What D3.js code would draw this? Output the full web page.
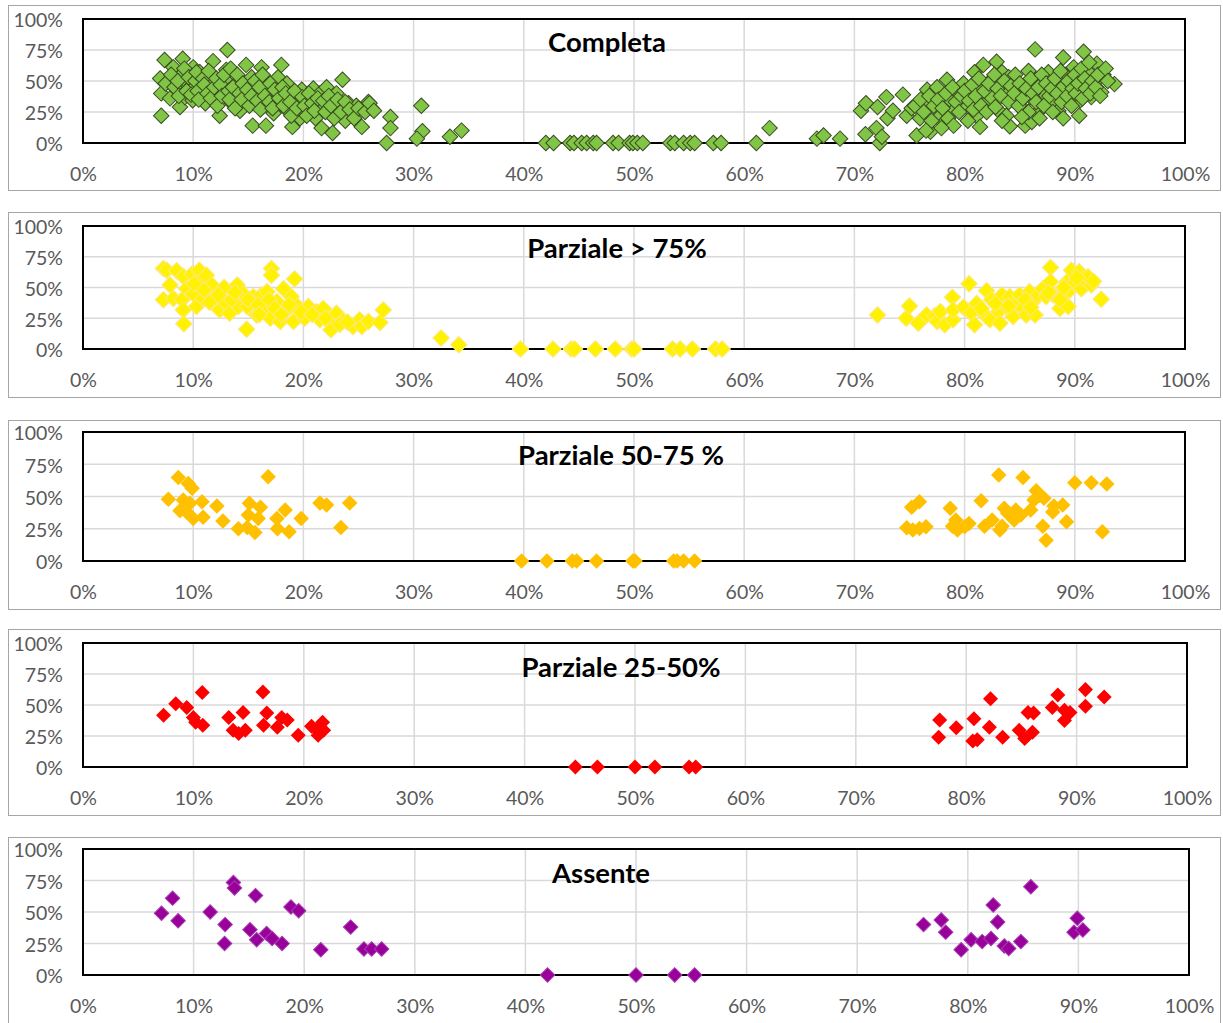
<!DOCTYPE html>
<html>
<head>
<meta charset="utf-8">
<script src="https://cdn.jsdelivr.net/npm/d3@7"></script>
<style>
  body { margin: 0; background: #fff; }
  svg { display: block; }
  .tick text { font-family: Lato, "Open Sans", sans-serif; fill: #595959; }
</style>
</head>
<body>
<svg id="chart" width="1223" height="1023"></svg>
<script>
// Axis ticks (percent)
const xTicks = [0, 10, 20, 30, 40, 50, 60, 70, 80, 90, 100];
const yTicks = [0, 25, 50, 75, 100];

const titles = ["Completa", "Parziale > 75%", "Parziale 50-75 %", "Parziale 25-50%", "Assente"];

// Each point: [x %, y %]
const completa = [
  // left group
  [7.1,22],[7.4,67],[7.1,40],[7.0,52],[7.5,48],[7.9,36],[8.2,61],[8.5,43],[9.05,68],[8.95,55],
  [8.8,29],[9.25,37],[9.55,48],[10.0,61],[9.95,34.5],[9.9,46.6],[10.6,57],[10.8,44],[11.1,32],[11.5,51],
  [11.8,66],[12.0,37],[12.4,22],[12.7,43],[13.0,59],[13.1,75],[12.9,51],[13.5,32],[13.9,48],[14.25,26],
  [14.8,63],[15.0,37],[15.4,14],[15.3,53],[15.75,41],[16.2,61],[16.4,32],[16.6,14],[16.7,45],[17.3,24],
  [17.6,40],[17.7,53],[18.0,63],[17.9,32],[18.5,48],[18.6,26],[19.0,13],[19.1,37],[19.55,32],[19.7,20],
  [19.85,43],[20.15,26],[20.75,36],[20.9,44],[21.1,20],[21.5,40],[21.65,12],[21.95,29],[22.1,45],[22.65,8],
  [22.6,22],[23.0,40],[23.2,29],[23.55,51],[23.8,18],[24.1,32],[24.5,24],[24.8,30],[25.3,13],[25.9,33],
  [26.2,28],[27.9,21],[27.9,12],[27.55,0],
  [8.0,55],[8.3,45],[8.6,50],[8.7,38],[9.2,60],[9.4,42],[9.6,53],[9.8,39],[10.2,50],[10.3,57],
  [10.4,42],[10.5,35],[10.9,52],[11.0,47],[11.3,40],[11.4,58],[11.6,36],[11.9,45],[12.1,52],[12.2,30],
  [12.5,47],[12.6,38],[12.8,55],[13.2,42],[13.3,35],[13.4,60],[13.6,45],[13.8,28],[14.0,55],[14.2,40],
  [14.4,35],[14.5,48],[14.9,43],[15.1,30],[15.3,38],[15.6,50],[15.8,34],[16.0,45],[16.1,27],[16.3,55],
  [16.5,38],[16.9,33],[17.0,48],[17.2,28],[17.4,43],[17.8,36],[18.1,45],[18.2,30],[18.4,40],[18.8,33],
  [18.9,22],[19.2,42],[19.4,28],[19.9,37],[20.1,30],[20.3,22],[20.5,40],[20.8,32],[21.0,26],[21.3,36],
  [21.8,34],[22.0,25],[22.3,38],[22.5,30],[22.8,20],[23.1,35],[23.4,25],[23.8,33],[24.2,27],[24.6,20],
  [25.0,28],[25.6,25],[26.0,32],[26.4,26],
  // middle
  [30.7,30],[30.8,9.5],[30.3,3.5],[33.3,5],[34.35,10],
  [42.0,0],[42.7,0],[44.2,0],[44.55,0],[45.25,0],[45.7,0],[46.3,0],[46.6,0],[48.1,0],[48.6,0],
  [49.6,0],[49.9,0],[50.3,0],[50.8,0],[53.3,0],[53.7,0],[54.5,0],[55.1,0],[55.5,0],[57.2,0],
  [57.9,0],[61.1,0],[62.3,12],[66.6,3.5],[67.2,6],[68.7,3.5],
  // right group
  [70.6,26],[71.05,32],[71.0,7],[72.0,12],[72.1,29],[72.3,0],[72.5,5],[72.9,37],[73.0,20],[73.5,26],
  [74.4,39],[74.75,22],[75.2,28],[75.65,6],[75.95,20],[76.6,43],[76.7,32],[76.9,9],[77.5,45],[77.8,22],
  [78.1,16],[78.4,51],[78.7,34.5],[79.0,26],[79.3,41],[79.9,48],[80.2,29],[80.5,37],[80.9,57],[81.1,22],
  [81.4,13],[81.55,44],[81.7,63],[82.15,34.5],[82.45,51],[82.9,65.5],[83.1,26],[83.4,57],[83.5,41],[84.0,53],
  [84.1,13.5],[84.4,34.5],[84.75,44],[85.2,29],[85.5,14],[85.8,58],[85.95,37],[86.1,17],[86.4,75.5],[86.5,51],
  [86.8,26],[87.1,41],[87.6,57],[88.05,34.5],[88.35,48],[88.5,26],[88.95,69],[88.95,20],[89.1,55],[89.55,41],
  [89.9,61],[90.2,51],[90.4,22],[90.5,34.5],[90.8,73.6],[91.1,45],[91.25,57],[91.5,37],[91.8,49],[92.0,64],
  [92.4,41],[92.6,55],[93.6,47.5],
  [75.5,30],[76.0,35],[76.3,25],[76.8,38],[77.0,18],[77.2,30],[77.6,35],[78.0,28],[78.3,40],[78.5,20],
  [78.9,45],[79.2,33],[79.5,25],[79.7,38],[80.0,42],[80.3,18],[80.4,34],[80.7,47],[80.8,27],[81.0,38],
  [81.3,52],[81.5,30],[81.8,42],[82.0,25],[82.2,48],[82.5,36],[82.7,55],[82.8,29],[83.0,44],[83.3,38],
  [83.6,50],[83.8,22],[84.0,33],[84.2,46],[84.5,40],[84.6,55],[84.9,30],[85.0,48],[85.3,36],[85.6,44],
  [85.8,25],[86.0,52],[86.2,40],[86.5,33],[86.7,45],[87.0,55],[87.2,30],[87.4,48],[87.7,38],[87.9,44],
  [88.2,52],[88.4,40],[88.7,58],[88.8,33],[89.0,46],[89.3,38],[89.4,50],[89.7,30],[89.8,44],[90.0,55],
  [90.1,40],[90.3,48],[90.6,60],[90.7,36],[90.9,52],[91.0,44],[91.3,65],[91.4,40],[91.6,50],[91.9,45],
  [92.1,55],[92.3,38],[92.8,60],[93.0,50],[88.0,25],[86.8,20],[85.2,21],[83.4,18],[79.0,14],[77.9,12],
  [76.5,10]
];

const parz75 = [
  [7.3,65.5],[7.6,64],[7.3,40],[7.9,52],[8.2,41],[8.5,63.6],[9.0,40],[9.1,59],[9.1,31.8],[9.15,20.5],
  [9.4,49],[9.9,61],[10.0,45],[10.3,34.5],[10.55,64],[10.8,56],[10.9,41],[11.2,60],[11.7,52],[12.0,42.6],
  [12.4,31.8],[12.8,50],[13.0,37],[13.3,29],[14.0,52],[14.1,34.5],[14.55,45],[14.85,16],[14.9,34.5],[15.45,42.6],
  [15.75,27.7],[16.2,44],[16.4,31.8],[16.7,46.6],[17.1,65.5],[17.1,60],[17.0,25],[17.6,38.5],[17.9,22.3],[18.2,49],
  [18.5,31.8],[18.9,42.6],[19.1,22.3],[19.2,57],[19.5,34.5],[20.1,25],[20.45,34.5],[21.2,30.4],[21.5,23.7],[22.3,27.7],
  [22.5,15.6],[22.9,23.7],[23.0,29],[23.6,23],[24.5,18.3],[25.1,23.7],[25.3,18.3],[25.9,22.3],[26.95,21.5],[27.25,31.8],
  [10.1,53],[11.0,48],[11.5,38],[12.3,44],[13.5,40],[13.8,46],[15.0,40],[15.9,36],[16.0,28],[16.9,40],
  [17.4,33],[18.0,28],[18.7,36],[19.8,30],[20.8,28],[21.8,33],[22.0,25],[23.3,20],[24.0,22],
  // middle
  [32.5,9],[34.1,3.5],[39.7,0],[42.65,0],[44.3,0],[44.6,0],[46.5,0],[48.3,0],[49.8,0],[50.0,0],
  [53.5,0],[54.2,0],[55.3,0],[57.4,0],[58.0,0],
  // right group
  [72.1,27.7],[74.7,25],[75.0,35],[75.8,21],[76.55,27.7],[77.3,27],[77.5,22.3],[77.8,30.4],[78.2,19.7],[78.9,42],
  [78.95,23.7],[78.95,31.8],[79.9,34],[80.4,53],[80.6,29],[80.9,19.7],[81.1,37],[81.85,27.7],[82.0,47.4],[82.3,23.7],
  [82.45,40],[83.1,30.4],[83.2,21],[83.4,44],[83.8,34.5],[84.1,42.6],[84.4,26.4],[84.7,37],[85.0,44],[85.3,33],
  [85.6,27.7],[85.9,46.6],[86.2,38.5],[86.4,27.7],[86.7,44],[87.1,49],[87.4,42.6],[87.8,66.3],[87.8,54.7],[88.05,44],
  [88.65,33],[88.8,42.6],[89.3,54.7],[89.4,34.5],[89.55,48],[89.7,64],[90.0,53.4],[90.4,62.8],[90.6,49],[90.75,57.4],
  [91.2,58.7],[91.5,52],[92.4,40.4],[91.7,55],[88.65,40],
  [81.5,33],[82.8,37],[84.0,35],[85.5,40],[86.0,34],[87.6,46],[89.0,50],[90.2,58]
];

const parz50 = [
  [7.75,47.8],[8.65,64.7],[8.8,39],[9.55,60],[9.9,56.4],[9.1,47.3],[9.7,44.7],[9.4,38],[10.0,33],[10.8,46],
  [10.9,34],[12.15,42.6],[12.7,31],[14.1,25],[15.1,44.7],[15.0,35.6],[14.9,26],[15.6,22],[16.1,41.6],[15.9,33],
  [16.8,65.4],[17.6,33],[17.65,25],[18.35,39.5],[18.7,22.6],[19.8,33],[21.5,45],[22.1,43.4],[23.4,26],[24.2,45],
  // middle
  [39.8,0],[42.1,0],[44.4,0],[44.8,0],[46.6,0],[49.9,0],[50.1,0],[53.6,0],[53.9,0],[54.5,0],[55.5,0],
  // right group
  [74.75,25.7],[75.2,41.6],[75.9,46],[75.3,24],[75.9,25.2],[76.5,26.5],[78.7,40.8],[78.9,27],[79.2,31.7],[79.35,24],
  [80.0,26.5],[80.4,29],[81.5,46.7],[81.8,27],[82.5,31.7],[83.1,66.7],[83.2,24],[83.4,27],[83.6,40.8],[83.9,37],
  [84.5,31.7],[84.65,39.5],[85.3,64.7],[85.1,35.6],[86.0,39.5],[86.3,47.3],[86.5,54.5],[86.8,51],[87.2,48.6],[87.1,27],
  [87.4,16],[88.0,38],[88.1,42.6],[88.9,43.4],[89.25,30.4],[90.0,60.7],[91.5,60.7],[92.9,59.7],[92.5,22.6]
];

const parz25 = [
  [7.3,41.7],[8.4,51],[9.4,48],[10.0,40],[10.2,36],[10.8,60],[10.85,33.6],[13.2,40],[13.6,29.6],[14.1,27],
  [14.5,44],[14.7,29.6],[16.3,60.5],[16.35,33.6],[16.65,43.5],[17.6,32],[18.0,40],[18.5,38],[19.5,25.6],[20.7,32.8],
  [21.3,25.6],[21.7,36],[21.8,29.6],[21.2,30],
  // middle
  [44.6,0],[46.6,0],[50.0,0],[51.8,0],[54.9,0],[55.5,0],
  // right group
  [77.6,38],[77.5,24],[79.1,31.7],[80.7,39],[80.6,21],[81.0,22],[82.1,32],[82.2,55],[83.3,24],[84.8,29.6],
  [85.3,23],[85.6,44],[86.1,43.5],[86.0,28],[87.8,48],[88.3,58],[88.9,37.6],[88.9,45.7],[89.4,44],[90.8,62.4],
  [90.8,49],[92.5,56.5]
];

const assente = [
  [7.1,49],[8.1,61],[8.6,43],[11.5,50],[12.85,40],[12.8,25],[13.6,73.5],[13.7,69],[15.6,63],[15.1,36],
  [15.7,28],[16.6,33],[17.1,29],[18.0,25],[18.8,54],[19.5,51],[21.5,20],[24.2,38],[25.4,20.6],[26.1,20.6],
  [27.0,20.6],
  // middle
  [42.0,0],[50.0,0],[53.5,0],[55.3,0],
  // right group
  [76.0,40],[77.6,43.7],[78.0,34],[79.4,20],[80.3,28],[81.3,26.5],[82.1,29],[82.3,55.5],[82.7,42],[83.3,23],
  [83.7,21],[84.8,26.5],[85.7,70],[89.9,45],[89.6,34],[90.4,35.7]
];

const seriesData = [completa, parz75, parz50, parz25, assente];

// Marker appearance per panel
const markerFill   = ["#80C545", "#FFF200", "#FFC000", "#FF0000", "#990099"];
const markerStroke = ["#3A4B22", "#FFE680", "none",    "none",    "#A53AB5"];
const markerDiag   = [15.5, 16.5, 15.5, 15, 14.5];

// Panel frames: outer box, plot box
const frames = [
  { boxTop: 5,   boxBottom: 190,  top: 19,  bottom: 143, right: 1185, titleX: 607, titleY: 52 },
  { boxTop: 212, boxBottom: 397,  top: 226, bottom: 349, right: 1185, titleX: 617, titleY: 258 },
  { boxTop: 420, boxBottom: 609,  top: 432, bottom: 561, right: 1185, titleX: 621, titleY: 465 },
  { boxTop: 629, boxBottom: 815,  top: 643, bottom: 767, right: 1187, titleX: 621, titleY: 677 },
  { boxTop: 837, boxBottom: 1030, top: 849, bottom: 975, right: 1189, titleX: 601, titleY: 883 }
];
const plotLeft = 83;

const svg = d3.select("#chart");

frames.forEach((f, i) => {
  const g = svg.append("g");

  // outer chart-area border
  g.append("rect")
    .attr("x", 8.5).attr("y", f.boxTop + 0.5)
    .attr("width", 1212).attr("height", f.boxBottom - f.boxTop)
    .attr("fill", "#fff").attr("stroke", "#A6A6A6").attr("stroke-width", 1);

  const x = d3.scaleLinear().domain([0, 100]).range([plotLeft, f.right]);
  const y = d3.scaleLinear().domain([0, 100]).range([f.bottom, f.top]);

  // gridlines
  g.append("g").selectAll("line").data(xTicks.slice(1, -1)).join("line")
    .attr("x1", d => x(d)).attr("x2", d => x(d))
    .attr("y1", f.top).attr("y2", f.bottom)
    .attr("stroke", "#D9D9D9").attr("stroke-width", 1.5);
  g.append("g").selectAll("line").data(yTicks.slice(1, -1)).join("line")
    .attr("x1", plotLeft).attr("x2", f.right)
    .attr("y1", d => y(d)).attr("y2", d => y(d))
    .attr("stroke", "#D9D9D9").attr("stroke-width", 1.5);

  // plot-area border
  g.append("rect")
    .attr("x", plotLeft).attr("y", f.top)
    .attr("width", f.right - plotLeft).attr("height", f.bottom - f.top)
    .attr("fill", "none").attr("stroke", "#000").attr("stroke-width", 2);

  // axes (labels only)
  const xAxis = d3.axisBottom(x).tickValues(xTicks).tickFormat(d => d + "%").tickSize(0).tickPadding(0);
  const xa = g.append("g").attr("transform", `translate(0,${f.bottom + 38})`).call(xAxis);
  xa.select(".domain").remove();
  xa.selectAll("text").attr("dy", 0).attr("font-size", 19.5).attr("font-family", "Lato, sans-serif");

  const yAxis = d3.axisLeft(y).tickValues(yTicks).tickFormat(d => d + "%").tickSize(0).tickPadding(0);
  const ya = g.append("g").attr("transform", `translate(${63},0)`).call(yAxis);
  ya.select(".domain").remove();
  ya.selectAll("text").attr("dy", "0.4em").attr("font-size", 19.5).attr("font-family", "Lato, sans-serif");

  // title
  g.append("text")
    .attr("x", f.titleX).attr("y", f.titleY)
    .attr("text-anchor", "middle")
    .attr("font-family", "Lato, sans-serif").attr("font-weight", 700)
    .attr("font-size", 27.5).attr("fill", "#000")
    .text(titles[i]);

  // diamond markers
  const side = markerDiag[i] / Math.SQRT2;
  const sym = d3.symbol(d3.symbolSquare, side * side);
  g.append("g").selectAll("path").data(seriesData[i]).join("path")
    .attr("d", sym)
    .attr("transform", d => `translate(${x(d[0])},${y(d[1])}) rotate(45)`)
    .attr("fill", markerFill[i])
    .attr("stroke", markerStroke[i])
    .attr("stroke-width", markerStroke[i] === "none" ? 0 : 1);
});
</script>
</body>
</html>
